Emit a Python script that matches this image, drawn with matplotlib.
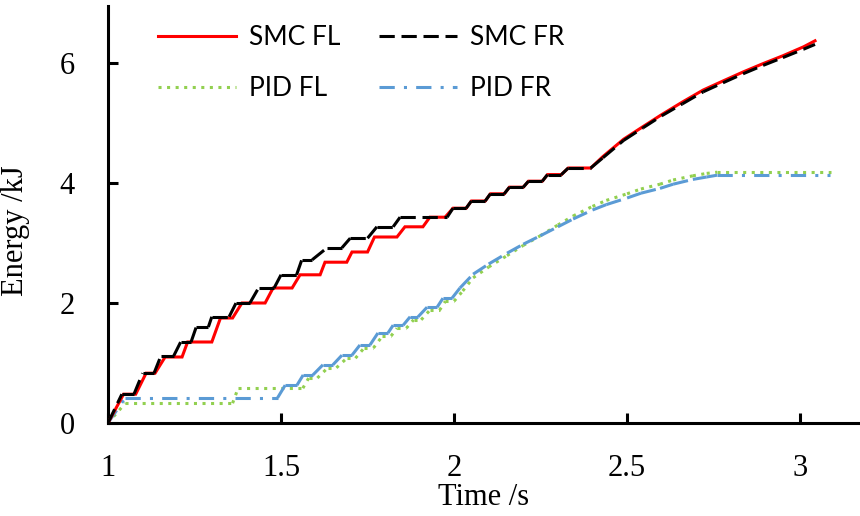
import numpy as np
import matplotlib
matplotlib.use("Agg")
import matplotlib.pyplot as plt
from matplotlib.collections import LineCollection
from matplotlib.lines import Line2D

plt.rcParams["font.family"] = ["Liberation Serif", "DejaVu Serif"]

# ---- data: cumulative energy (kJ) over time (s) ----
smc_fl_t = [1.000, 1.045, 1.080, 1.110, 1.136, 1.165, 1.214, 1.230, 1.300, 1.325,
            1.360, 1.387, 1.454, 1.477, 1.532, 1.555, 1.613, 1.627, 1.690, 1.705,
            1.750, 1.770, 1.835, 1.858, 1.910, 1.930, 1.974, 1.997, 2.035, 2.050,
            2.090, 2.105, 2.145, 2.160, 2.200, 2.215, 2.255, 2.270, 2.310, 2.330,
            2.395, 2.430, 2.490, 2.546, 2.600, 2.660, 2.720, 2.777, 2.835, 2.893,
            2.950, 3.010, 3.043]
smc_fl_e = [0.00, 0.48, 0.48, 0.83, 0.83, 1.10, 1.10, 1.35, 1.35, 1.75,
            1.75, 2.00, 2.00, 2.25, 2.25, 2.47, 2.47, 2.68, 2.68, 2.85,
            2.85, 3.10, 3.10, 3.27, 3.27, 3.43, 3.43, 3.58, 3.58, 3.70,
            3.70, 3.82, 3.82, 3.93, 3.93, 4.03, 4.03, 4.14, 4.14, 4.25,
            4.25, 4.44, 4.73, 4.94, 5.14, 5.35, 5.55, 5.70, 5.85, 5.99,
            6.12, 6.27, 6.37]

smc_fr_t = [1.000, 1.040, 1.075, 1.100, 1.133, 1.153, 1.190, 1.210, 1.240, 1.255,
            1.290, 1.300, 1.350, 1.370, 1.410, 1.435, 1.480, 1.500, 1.545, 1.560,
            1.590, 1.633, 1.676, 1.700, 1.750, 1.777, 1.824, 1.844, 1.980, 1.997,
            2.035, 2.050, 2.090, 2.105, 2.145, 2.160, 2.200, 2.215, 2.255, 2.270,
            2.310, 2.330, 2.395, 2.430, 2.490, 2.546, 2.600, 2.660, 2.720, 2.777,
            2.835, 2.893, 2.950, 3.010, 3.043]
smc_fr_e = [0.00, 0.48, 0.48, 0.83, 0.83, 1.12, 1.12, 1.35, 1.35, 1.60,
            1.60, 1.77, 1.77, 2.00, 2.00, 2.25, 2.25, 2.47, 2.47, 2.72,
            2.72, 2.92, 2.92, 3.08, 3.08, 3.27, 3.27, 3.43, 3.43, 3.58,
            3.58, 3.70, 3.70, 3.82, 3.82, 3.93, 3.93, 4.03, 4.03, 4.14,
            4.14, 4.25, 4.25, 4.42, 4.71, 4.92, 5.12, 5.32, 5.52, 5.67,
            5.82, 5.96, 6.09, 6.23, 6.31]

pid_fl_t = [1.000, 1.050, 1.360, 1.376, 1.563, 1.580, 1.605, 1.635, 1.660, 1.690,
            1.715, 1.740, 1.767, 1.793, 1.818, 1.835, 1.862, 1.883, 1.905, 1.930,
            1.958, 1.975, 2.000, 2.025, 2.055, 2.100, 2.153, 2.200, 2.249, 2.300,
            2.344, 2.400, 2.440, 2.500, 2.540, 2.595, 2.633, 2.690, 2.730, 2.760,
            3.090]
pid_fl_e = [0.00, 0.33, 0.33, 0.58, 0.58, 0.75, 0.75, 0.92, 0.92, 1.08,
            1.08, 1.25, 1.25, 1.45, 1.45, 1.58, 1.58, 1.72, 1.72, 1.88,
            1.88, 2.03, 2.03, 2.20, 2.42, 2.60, 2.79, 2.96, 3.12, 3.30,
            3.45, 3.61, 3.71, 3.82, 3.90, 3.98, 4.05, 4.12, 4.16, 4.18,
            4.18]

pid_fr_t = [1.000, 1.050, 1.490, 1.512, 1.546, 1.564, 1.592, 1.621, 1.650, 1.676,
            1.705, 1.728, 1.757, 1.780, 1.809, 1.824, 1.853, 1.873, 1.896, 1.922,
            1.951, 1.968, 1.994, 2.017, 2.055, 2.100, 2.153, 2.200, 2.249, 2.300,
            2.344, 2.400, 2.440, 2.500, 2.540, 2.595, 2.633, 2.690, 2.730, 2.760,
            3.087]
pid_fr_e = [0.00, 0.42, 0.42, 0.63, 0.63, 0.80, 0.80, 0.97, 0.97, 1.13,
            1.13, 1.30, 1.30, 1.50, 1.50, 1.63, 1.63, 1.77, 1.77, 1.93,
            1.93, 2.08, 2.08, 2.25, 2.48, 2.65, 2.83, 2.98, 3.12, 3.27,
            3.40, 3.55, 3.64, 3.75, 3.83, 3.91, 3.98, 4.06, 4.10, 4.13,
            4.13]

labels = ["SMC FL", "SMC FR", "PID FL", "PID FR"]
x_ticks = [1, 1.5, 2, 2.5, 3]
x_tick_labels = ["1", "1.5", "2", "2.5", "3"]
y_ticks = [0, 2, 4, 6]

RED, BLACK, GREEN, BLUE = "#FF0000", "#000000", "#92D050", "#5B9BD5"
LW = 2.2
DASH = (0, (5, 2.2))
DOT = (0, (1, 1.8))
DASHDOT = (0, (5, 3, 1, 3))

fig = plt.figure(figsize=(8.6, 5.16), dpi=100)
ax = fig.add_axes([108 / 860, 93 / 516, 752 / 860, 417 / 516])


def segments(t, e):
    pts = np.column_stack([t, e])
    return np.stack([pts[:-1], pts[1:]], axis=1)


# dashed styles restart their pattern on each segment
ax.plot(smc_fl_t, smc_fl_e, color=RED, lw=LW, solid_joinstyle="miter", zorder=3)
ax.add_collection(LineCollection(segments(smc_fr_t, smc_fr_e), colors=BLACK,
                                 linewidths=LW, linestyles=DASH, zorder=4))
ax.add_collection(LineCollection(segments(pid_fl_t, pid_fl_e), colors=GREEN,
                                 linewidths=LW, linestyles=DOT, zorder=2))
ax.add_collection(LineCollection(segments(pid_fr_t, pid_fr_e), colors=BLUE,
                                 linewidths=LW, linestyles=DASHDOT, zorder=2.5))

ax.set_xlim(1, 3.173)
ax.set_ylim(0, 6.95)
ax.set_xticks(x_ticks)
ax.set_xticklabels(x_tick_labels)
ax.set_yticks(y_ticks)
ax.set_yticklabels([str(v) for v in y_ticks])

for side in ("top", "right"):
    ax.spines[side].set_visible(False)
for side in ("left", "bottom"):
    ax.spines[side].set_linewidth(LW)
ax.tick_params(axis="both", direction="in", length=7, width=LW, labelsize=22)
ax.tick_params(axis="x", pad=22)
ax.tick_params(axis="y", pad=24)

ax.set_xlabel("Time /s", fontsize=22)
ax.set_ylabel("Energy /kJ", fontsize=22)
ax.xaxis.set_label_coords(0.5, -0.145)
ax.yaxis.set_label_coords(-0.104, 0.46)

handles = [
    Line2D([], [], color=RED, lw=LW),
    Line2D([], [], color=GREEN, lw=LW, linestyle=DOT),
    Line2D([], [], color=BLACK, lw=LW, linestyle=DASH),
    Line2D([], [], color=BLUE, lw=LW, linestyle=DASHDOT),
]
fig.legend(handles, [labels[0], labels[2], labels[1], labels[3]], ncol=2,
           loc="upper left", bbox_to_anchor=(158 / 860, 1 - 25 / 516),
           bbox_transform=fig.transFigure, frameon=False, borderpad=0,
           borderaxespad=0, handlelength=2.95, handletextpad=0.5,
           columnspacing=1.45, labelspacing=0.98,
           prop={"family": ["Lato", "DejaVu Sans"], "size": 19})

fig.savefig("out.png", dpi=100)
